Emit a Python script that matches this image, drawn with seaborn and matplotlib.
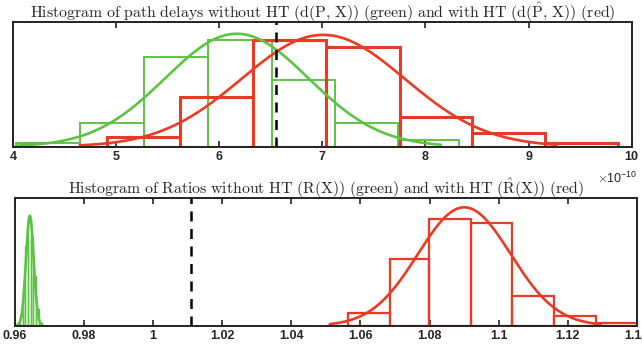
import numpy as np
import matplotlib
matplotlib.use("Agg")
import matplotlib.pyplot as plt
import seaborn as sns

# ---------------- data (top panel values in units of 1e-10) ----------------
delay_green_edges = [4.03, 4.65, 5.27, 5.89, 6.51, 7.12, 7.73, 8.33]
delay_green_counts = [1, 7, 27, 32, 20, 7, 2]
delay_red_edges = [4.91, 5.62, 6.33, 7.04, 7.75, 8.45, 9.16, 9.87]
delay_red_counts = [3, 15, 32, 30, 9, 4, 1]
delay_threshold = 6.555
delay_green_fit_range = (4.03, 8.15)
delay_red_fit_range = (4.65, 9.27)
delay_ticks = [4, 5, 6, 7, 8, 9, 10]

ratio_green_edges = [0.9607, 0.9615, 0.9622, 0.9630, 0.9638, 0.9646,
                     0.9653, 0.9661, 0.9669, 0.9677]
ratio_green_counts = [1, 3, 11, 24, 32, 27, 15, 5, 1]
ratio_red_edges = [1.0564, 1.0685, 1.0798, 1.0919, 1.1039, 1.1160, 1.1281, 1.1402]
ratio_red_counts = [4, 20, 32, 31, 9, 3, 1]
ratio_threshold = 1.011
ratio_green_fit_range = (0.9603, 0.9680)
ratio_red_fit_range = (1.0511, 1.1295)
ratio_ticks = [0.96, 0.98, 1.00, 1.02, 1.04, 1.06, 1.08, 1.10, 1.12, 1.14]

title_top = (r"$\mathrm{Histogram\ of\ path\ delays\ without\ HT\ (d(P,\,X))\ (green)"
             r"\ and\ with\ HT\ (d(\hat{P},\,X))\ (red)}$")
title_bottom = (r"$\mathrm{Histogram\ of\ Ratios\ without\ HT\ (R(X))\ (green)"
                r"\ and\ with\ HT\ (\hat{R}(X))\ (red)}$")

GREEN = "#5cc444"
RED = "#ea3a24"

sns.set_theme(style="white")
plt.rcParams["font.family"] = ["Liberation Sans", "DejaVu Sans"]
plt.rcParams["mathtext.fontset"] = "cm"


def normal_fit(edges, counts, rng):
    e = np.asarray(edges, float)
    c = np.asarray(counts, float)
    centers = (e[:-1] + e[1:]) / 2
    w = np.diff(e).mean()
    n = c.sum()
    mu = (centers * c).sum() / n
    var = ((centers - mu) ** 2 * c).sum() / n - w ** 2 / 12
    sd = np.sqrt(var)
    xs = np.linspace(rng[0], rng[1], 400)
    ys = n * w / (sd * np.sqrt(2 * np.pi)) * np.exp(-0.5 * ((xs - mu) / sd) ** 2)
    return xs, ys


def draw_hist(ax, edges, counts, color, lw):
    e = np.asarray(edges, float)
    centers = (e[:-1] + e[1:]) / 2
    sns.histplot(x=centers, weights=counts, bins=edges, element="bars",
                 fill=False, color=color, linewidth=lw, ax=ax)


fig = plt.figure(figsize=(6.42, 3.5), dpi=100)
ax1 = fig.add_axes([0.020, 0.581, 0.964, 0.357])
ax2 = fig.add_axes([0.0234, 0.069, 0.9686, 0.365])

# top panel
draw_hist(ax1, delay_green_edges, delay_green_counts, GREEN, 1.4)
draw_hist(ax1, delay_red_edges, delay_red_counts, RED, 2.2)
xs, ys = normal_fit(delay_green_edges, delay_green_counts, delay_green_fit_range)
sns.lineplot(x=xs, y=ys, color=GREEN, linewidth=1.9, ax=ax1)
xs, ys = normal_fit(delay_red_edges, delay_red_counts, delay_red_fit_range)
sns.lineplot(x=xs, y=ys, color=RED, linewidth=1.9, ax=ax1)
ax1.axvline(delay_threshold, color="black", linestyle=(0, (4, 3)), linewidth=1.8)
ax1.set_xlim(4, 10)
ax1.set_ylim(0, 37.5)
ax1.set_xticks(delay_ticks)
ax1.set_xticklabels([f"{t:g}" for t in delay_ticks])
ax1.set_title(title_top, fontsize=11.4, pad=3)

# bottom panel
draw_hist(ax2, ratio_green_edges, ratio_green_counts, GREEN, 1.0)
draw_hist(ax2, ratio_red_edges, ratio_red_counts, RED, 1.6)
xs, ys = normal_fit(ratio_green_edges, ratio_green_counts, ratio_green_fit_range)
sns.lineplot(x=xs, y=ys, color=GREEN, linewidth=1.9, ax=ax2)
xs, ys = normal_fit(ratio_red_edges, ratio_red_counts, ratio_red_fit_range)
sns.lineplot(x=xs, y=ys, color=RED, linewidth=1.9, ax=ax2)
ax2.axvline(ratio_threshold, color="black", linestyle=(0, (4, 3)), linewidth=1.8)
ax2.set_xlim(0.96, 1.14)
ax2.set_ylim(0, 38.4)
ax2.set_xticks(ratio_ticks)
ax2.set_xticklabels([f"{t:g}" for t in ratio_ticks])
ax2.set_title(title_bottom, fontsize=11.4, pad=3)

for ax in (ax1, ax2):
    ax.set_yticks([])
    ax.set_ylabel("")
    ax.set_xlabel("")
    ax.tick_params(axis="x", direction="in", top=True, bottom=True,
                   length=4, width=1.2, labelsize=9, pad=3, color="#222222")
    for lab in ax.get_xticklabels():
        lab.set_fontweight("bold")
    for sp in ax.spines.values():
        sp.set_color("#222222")
        sp.set_linewidth(1.4)

fig.text(0.930, 0.490, r"$\times\mathregular{10^{-10}}$", fontsize=9,
         ha="left", va="center", color="#222222")

fig.savefig("out.png", dpi=100)
